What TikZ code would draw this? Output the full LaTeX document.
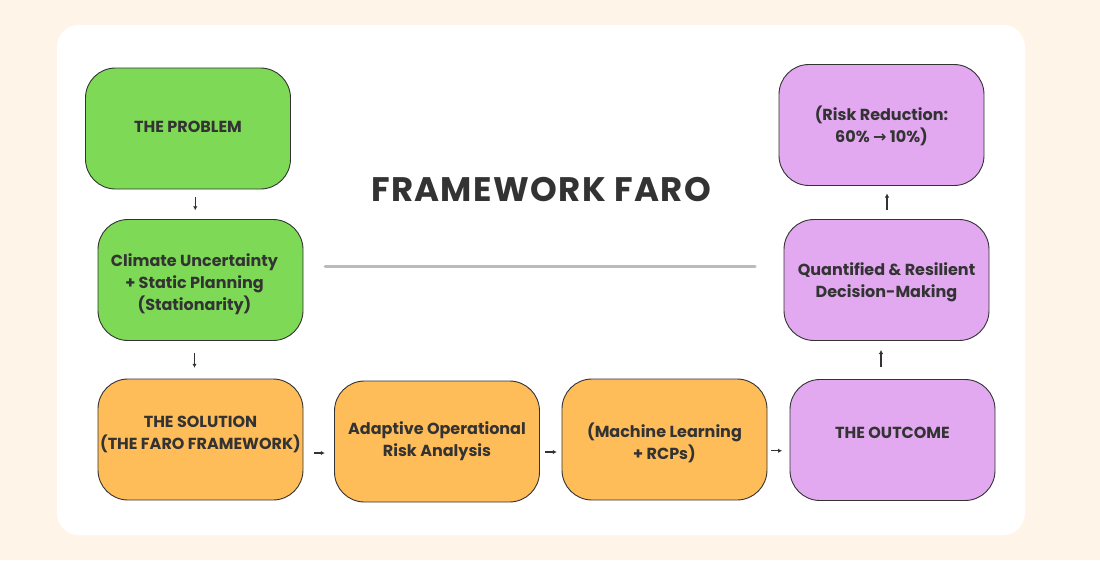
\documentclass[tikz,border=0pt]{standalone}
\usepackage{fontspec}
\setmainfont{Poppins}
\newfontfamily\titlefont[LetterSpace=4]{Poppins}
\newfontfamily\dejavu{DejaVu Sans}
\usetikzlibrary{calc,arrows.meta}
\definecolor{bgcream}{HTML}{FFF4E8}
\definecolor{txt}{HTML}{333333}
\definecolor{gfill}{HTML}{7ED957}
\definecolor{ofill}{HTML}{FFBD59}
\definecolor{pfill}{HTML}{E2A9F1}
\definecolor{linegray}{HTML}{BBBBBB}
\tikzset{
  box/.style={draw=txt, line width=0.9pt, rounded corners=30pt, minimum width=205pt, minimum height=121pt, inner sep=0pt},
  gbox/.style={box, fill=gfill},
  obox/.style={box, fill=ofill},
  pbox/.style={box, fill=pfill},
  lbl/.style={align=center, text=txt, font=\fontsize{16}{22}\selectfont\bfseries, inner sep=0pt},
  arr/.style={draw=txt, line width=1.1pt, -{Latex[length=4pt,width=4.5pt]}},
}
\begin{document}
\begin{tikzpicture}[x=1pt,y=-1pt]
\useasboundingbox (0,0) rectangle (1100,560);
\fill[bgcream] (0,0) rectangle (1100,560);
\fill[white, rounded corners=22pt] (57,25) rectangle (1025,535);

\node[gbox] (p) at (188,128.5) {};
\node[gbox] (c) at (200.5,280) {};
\node[obox] (s) at (200.5,439.5) {};
\node[obox] (a) at (437,441.5) {};
\node[obox] (m) at (664.5,439.5) {};
\node[pbox] (o) at (892.5,440) {};
\node[pbox] (q) at (886.5,280) {};
\node[pbox] (r) at (881.5,125) {};

\node[lbl] (pt) at ($(p.center)+(0,-2)$) {THE PROBLEM};
\node[lbl] (ct) at ($(c.center)+(-6,4)$) {Climate Uncertainty\\+ Static Planning\\(Stationarity)};
\node[lbl] (st) at ($(s.center)+(0,-5)$) {THE SOLUTION\\(THE FARO FRAMEWORK)};
\node[lbl] (at) at ($(a.center)+(0,0)$) {Adaptive Operational\\Risk Analysis};
\node[lbl] (mt) at ($(m.center)+(0,3)$) {(Machine Learning\\+ RCPs)};
\node[lbl] (ot) at ($(o.center)+(0,-7)$) {THE OUTCOME};
\node[lbl] (qt) at ($(q.center)+(0,2)$) {Quantified \& Resilient\\Decision-Making};
\node[lbl] (rt) at ($(r.center)+(0,1)$) {(Risk Reduction:\\60\% {\dejavu\bfseries →} 10\%)};

\node[text=txt, font=\fontsize{34}{40}\titlefont\bfseries] (title) at (541,190) {FRAMEWORK FARO};
\coordinate (l1) at (325,266);
\coordinate (l2) at (755,266);
\draw[linegray, line width=3pt, line cap=round] (l1) -- (l2);

\draw[arr] ($(p.south)!0.5!(c.north)+(1,-7)$) -- ++(0,13);
\draw[arr] ($(c.south)!0.5!(s.north)+(-6,-7)$) -- ++(0,15);
\draw[arr] ($(s.east)!0.5!(a.west)+(-5,12.5)$) -- ++(11,0);
\draw[arr] ($(a.east)!0.5!(m.west)+(-6,11.5)$) -- ++(12,0);
\draw[arr] ($(m.east)!0.5!(o.west)+(-7.5,11)$) -- ++(11,0);
\draw[arr] ($(o.north)!0.5!(q.south)+(-8.5,7)$) -- ++(0,-17);
\draw[arr] ($(q.north)!0.5!(r.south)+(3,7)$) -- ++(0,-16);
\end{tikzpicture}
\end{document}
